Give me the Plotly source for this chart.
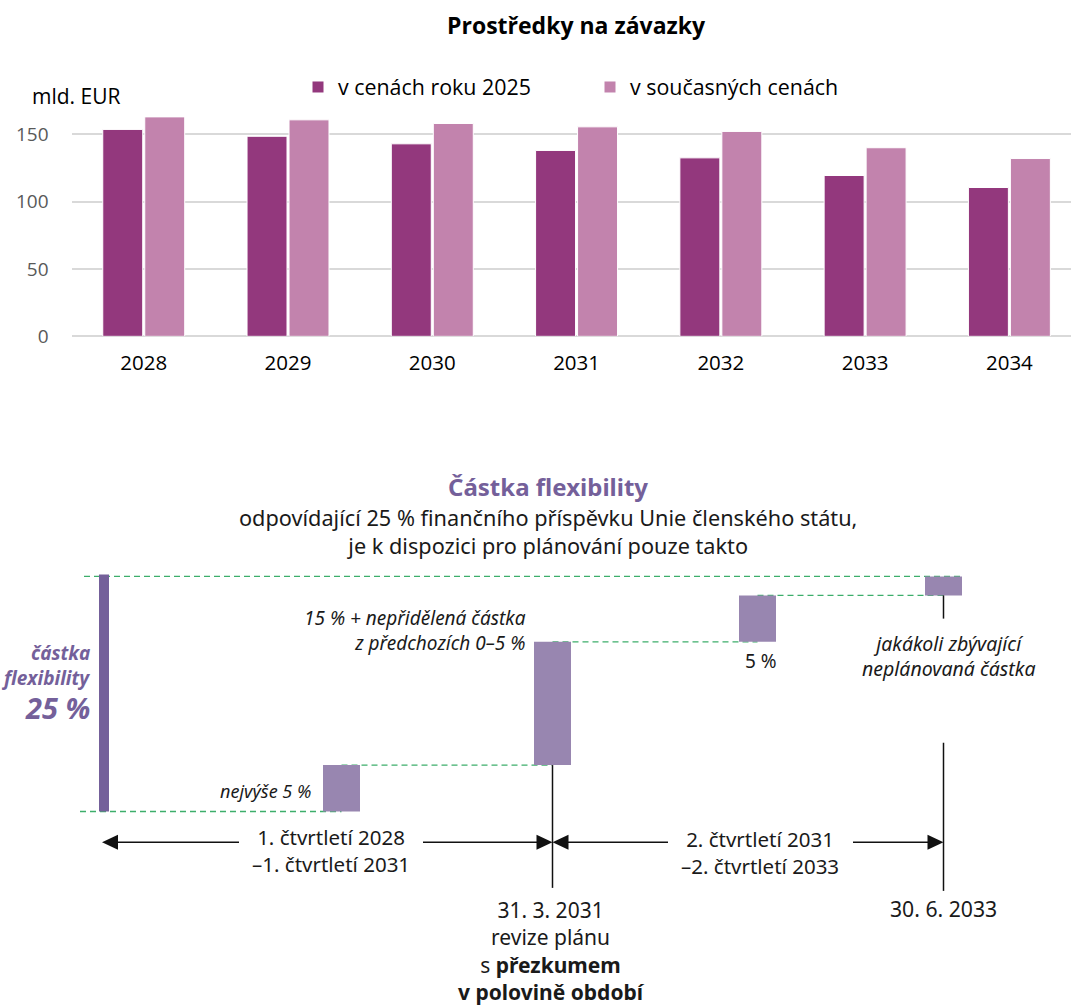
import plotly.graph_objects as go

W = 1071
REF_H = 1005          # reference picture height (all positions below are read in this frame)
H = 1019              # browser viewport height (picture is resized to 1005)

# ---------------- data: top bar chart ----------------
years = ["2028", "2029", "2030", "2031", "2032", "2033", "2034"]
prices_2025 = [153.5, 148.4, 142.8, 137.9, 132.4, 119.3, 110.4]
current_prices = [162.8, 160.6, 157.9, 155.4, 152.0, 139.9, 131.9]
series_names = ["v cenách roku 2025", "v současných cenách"]
y_ticks = [0, 50, 100, 150]

# ---------------- data: flexibility diagram (schematic, % of contribution) ----------------
flex_total = 25
flex_steps = [4.9, 13.0, 4.9, 2.0]          # waterfall steps (schematic sizes)
stage_pos = [341.5, 552.5, 757.5, 943.5]    # schematic positions on diagram axis
flex_pos = 104
timeline_pos = [102, 552.5, 943.5]          # Q1 2028 start, 31.3.2031, 30.6.2033

# cumulative bases/tops
bases, tops = [], []
acc = 0
for s in flex_steps:
    bases.append(acc)
    acc += s
    tops.append(acc)

C_DARK = "#93387D"
C_LIGHT = "#C283AD"
C_FLEX = "#74609A"
C_BLOCK = "#9886B0"
C_GREEN = "#3DAE6B"
FONT_TOP = "Open Sans"
FONT_BOT = "Noto Sans"

# diagram vertical mapping: 0 % at y=810.7, 25 % at y=574 (reference frame)
Y0_PX = 810.7
PX_PER_PCT = (810.7 - 574.0) / 25.0
def lvl(ypx):
    return (Y0_PX - ypx) / PX_PER_PCT
y2_range = [lvl(REF_H), lvl(REF_H * 0.5)]

def px(x):
    return x / W
def py(y):
    return 1 - y / REF_H

fig = go.Figure()

fig.add_trace(go.Bar(x=years, y=prices_2025, name=series_names[0],
                     marker=dict(color=C_DARK, line=dict(color="white", width=1)),
                     xaxis="x", yaxis="y"))
fig.add_trace(go.Bar(x=years, y=current_prices, name=series_names[1],
                     marker=dict(color=C_LIGHT, line=dict(color="white", width=1)),
                     xaxis="x", yaxis="y"))

# waterfall diagram (single trace so bars are not grouped)
fig.add_trace(go.Bar(
    x=[flex_pos] + stage_pos,
    y=[flex_total] + flex_steps,
    base=[0] + bases,
    width=[10] + [37] * len(stage_pos),
    marker=dict(color=[C_FLEX] + [C_BLOCK] * len(stage_pos), line=dict(width=0)),
    xaxis="x2", yaxis="y2", showlegend=False, hoverinfo="skip"))

shapes = []
dash = dict(color=C_GREEN, width=1.3, dash="6px,4px")
# dashed level lines
shapes.append(dict(type="line", xref="x2", yref="y2", x0=80, x1=stage_pos[0], y0=0, y1=0, line=dash, layer="below"))
for i in range(len(stage_pos) - 1):
    shapes.append(dict(type="line", xref="x2", yref="y2", x0=stage_pos[i], x1=stage_pos[i + 1],
                       y0=tops[i], y1=tops[i], line=dash, layer="below"))
shapes.append(dict(type="line", xref="x2", yref="y2", x0=84, x1=stage_pos[-1] + 18.5,
                   y0=tops[-1], y1=tops[-1], line=dash, layer="below"))

blk = dict(color="#111111", width=1.5)
# vertical milestone lines
shapes.append(dict(type="line", xref="x2", yref="y2", x0=timeline_pos[1], x1=timeline_pos[1],
                   y0=bases[1], y1=lvl(887), line=blk))
shapes.append(dict(type="line", xref="x2", yref="y2", x0=timeline_pos[2], x1=timeline_pos[2],
                   y0=bases[3], y1=lvl(618), line=blk))
shapes.append(dict(type="line", xref="x2", yref="y2", x0=timeline_pos[2], x1=timeline_pos[2],
                   y0=lvl(742), y1=lvl(890), line=blk))

# timeline arrows
ya = lvl(841.5)
for x0, x1 in [(timeline_pos[0] + 8, 239), (423, timeline_pos[1] - 8),
               (timeline_pos[1] + 8, 668), (853, timeline_pos[2] - 8)]:
    shapes.append(dict(type="line", xref="x2", yref="y2", x0=x0, x1=x1, y0=ya, y1=ya, line=blk))
dy = 7.5 / PX_PER_PCT
for tip, d in [(timeline_pos[0], -1), (timeline_pos[1], 1), (timeline_pos[1], -1), (timeline_pos[2], 1)]:
    xb = tip - d * 16
    shapes.append(dict(type="path", xref="x2", yref="y2",
                       path=f"M {tip},{ya} L {xb},{ya + dy} L {xb},{ya - dy} Z",
                       fillcolor="#111111", line=dict(width=0)))

ann = []
def T(text, x, y, size=19, font=FONT_BOT, color="#1a1a1a", xanchor="center", align="center"):
    ann.append(dict(text=text, x=px(x), y=py(y), xref="paper", yref="paper",
                    xanchor=xanchor, yanchor="middle", showarrow=False, align=align,
                    font=dict(family=font, size=size, color=color)))

# top chart texts
T("<b>Prostředky na závazky</b>", 576, 25, size=23, font=FONT_TOP, color="#000000")
T("mld. EUR", 30, 96, size=21, font=FONT_TOP, color="#000000", xanchor="left")

# diagram texts
T("<b>Částka flexibility</b>", 548, 486, size=24, color=C_FLEX)
T("odpovídající 25 % finančního příspěvku Unie členského státu,<br>"
  "je k dispozici pro plánování pouze takto", 548, 530.5, size=21.7)
T("<b><i>částka</i></b>", 92, 652, size=19, color=C_FLEX, xanchor="right")
T("<b><i>flexibility</i></b>", 92, 677, size=19, color=C_FLEX, xanchor="right")
T("<b><i>25 %</i></b>", 92, 707, size=29, color=C_FLEX, xanchor="right")
T("<i>nejvýše 5 %</i>", 313, 790, size=18, xanchor="right")
T("<i>15 % + nepřidělená částka<br>z předchozích 0–5 %</i>", 528, 630, size=19,
  xanchor="right", align="right")
T("5 %", 761, 660, size=19)
T("<i>jakákoli zbývající<br>neplánovaná částka</i>", 948, 655.5, size=19.5)
T("1. čtvrtletí 2028<br>–1. čtvrtletí 2031", 331, 850, size=20.5)
T("2. čtvrtletí 2031<br>–2. čtvrtletí 2033", 760, 852, size=20.5)
T("31. 3. 2031<br>revize plánu<br>s <b>přezkumem</b><br><b>v polovině období</b>", 552, 950, size=21)
T("30. 6. 2033", 943, 908, size=21.2)

fig.update_layout(
    width=W, height=H,
    margin=dict(l=0, r=0, t=0, b=0),
    paper_bgcolor="white", plot_bgcolor="white",
    barmode="group", bargap=0.418, bargroupgap=0.048,
    font=dict(family=FONT_TOP, size=19, color="#000000"),
    xaxis=dict(domain=[71.6 / W, 1], range=[-0.5, 6.427], type="category",
               showgrid=False, showline=False, ticks="", zeroline=False,
               tickfont=dict(family=FONT_TOP, size=20.5, color="#000000"),
               ticklabelstandoff=12, fixedrange=True, anchor="y"),
    yaxis=dict(domain=[py(336), py(336 - 170 * 202 / 150)], range=[0, 170],
               tickvals=y_ticks, showgrid=True, gridcolor="#D9D9D9", gridwidth=1.5,
               zeroline=True, zerolinecolor="#D9D9D9", zerolinewidth=1.5,
               showline=False, ticks="",
               tickfont=dict(family=FONT_TOP, size=19, color="#595959"),
               ticklabelstandoff=22, fixedrange=True, anchor="x"),
    xaxis2=dict(domain=[0, 1], range=[0, W], visible=False, fixedrange=True, anchor="y2"),
    yaxis2=dict(domain=[0, 0.5], range=y2_range, visible=False, fixedrange=True, anchor="x2"),
    legend=dict(orientation="h", x=px(298), y=py(87), xanchor="left", yanchor="middle",
                font=dict(family=FONT_TOP, size=21.4, color="#000000"),
                entrywidth=247, entrywidthmode="pixels", itemwidth=30,
                bgcolor="rgba(0,0,0,0)"),
    shapes=shapes,
    annotations=ann,
    showlegend=True,
)

post = ("var r=document.documentElement, b=document.body;"
        "r.style.margin='0';r.style.padding='0';r.style.overflow='hidden';"
        "b.style.margin='0';b.style.padding='0';b.style.overflow='hidden';")
fig.write_html("out.html", config={"displayModeBar": False}, post_script=post)
